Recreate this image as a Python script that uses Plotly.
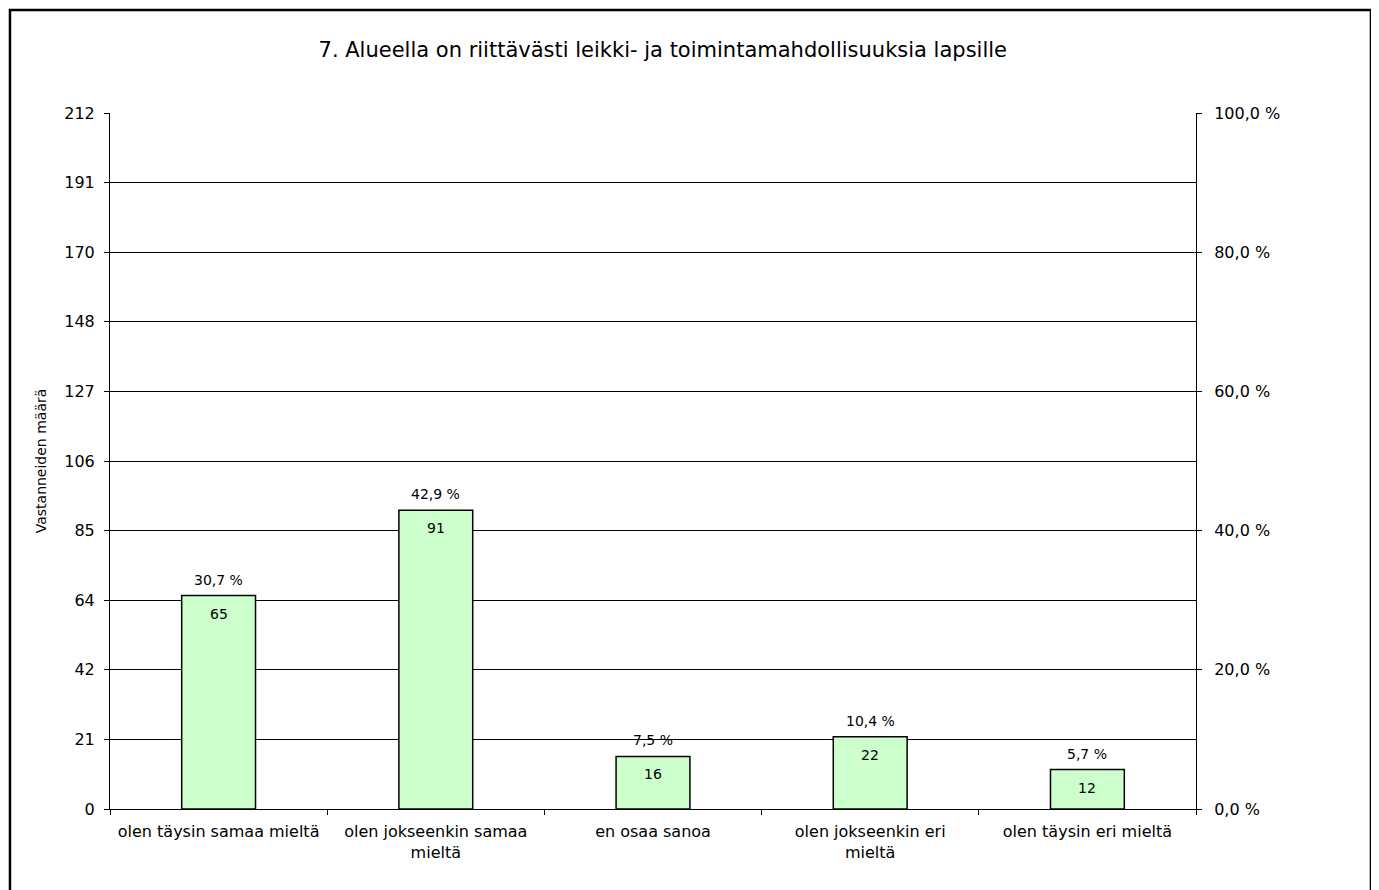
import plotly.graph_objects as go

# --- data ---
categories = ['olen täysin samaa mieltä', 'olen jokseenkin samaa<br>mieltä', 'en osaa sanoa',
              'olen jokseenkin eri<br>mieltä', 'olen täysin eri mieltä']
counts = [65, 91, 16, 22, 12]
percents = [30.7, 42.9, 7.5, 10.4, 5.7]
left_tick_labels = ['0', '21', '42', '64', '85', '106', '127', '148', '170', '191', '212']
right_tick_labels = ['0,0 %', '20,0 %', '40,0 %', '60,0 %', '80,0 %', '100,0 %']
title_text = '7. Alueella on riittävästi leikki- ja toimintamahdollisuuksia lapsille'
y_title = 'Vastanneiden määrä'

FONT = 'DejaVu Sans'
y_max = 212
left_tick_vals = [i * y_max / (len(left_tick_labels) - 1) for i in range(len(left_tick_labels))]
right_tick_vals = [i * 100 / (len(right_tick_labels) - 1) for i in range(len(right_tick_labels))]

fig = go.Figure()

fig.add_trace(go.Bar(
    x=categories, y=counts, width=0.34,
    marker=dict(color='#CCFFCC', line=dict(color='black', width=1.5)),
    showlegend=False, hoverinfo='skip'
))

# invisible trace to activate the right axis
fig.add_trace(go.Scatter(x=categories, y=[None] * len(categories), yaxis='y2',
                         showlegend=False, hoverinfo='skip'))

# value labels: count inside the bar top, percentage above the bar
annotations = []
for cat, c, p in zip(categories, counts, percents):
    annotations.append(dict(x=cat, y=c, xref='x', yref='y', text=str(c), showarrow=False,
                            yanchor='middle', yshift=-18, font=dict(family=FONT, size=14, color='black')))
    annotations.append(dict(x=cat, y=c, xref='x', yref='y', text=f"{p:.1f} %".replace('.', ','),
                            showarrow=False, yanchor='middle', yshift=16,
                            font=dict(family=FONT, size=14, color='black')))

fig.update_layout(
    width=1371, height=882,
    margin=dict(l=102, r=183, t=105, b=81),
    plot_bgcolor='white', paper_bgcolor='white',
    font=dict(family=FONT, size=16, color='black'),
    title=dict(text=title_text, x=0.509, xref='paper', y=1 - 42 / 882, yanchor='middle',
               font=dict(family=FONT, size=21, color='black')),
    xaxis=dict(showline=True, linecolor='black', linewidth=1, ticks='outside', tickson='boundaries',
               ticklen=5, tickcolor='black', showgrid=False, tickfont=dict(size=16),
               tickangle=0, ticklabelstandoff=8, automargin=False),
    yaxis=dict(range=[0, y_max], tickvals=left_tick_vals, ticktext=left_tick_labels,
               showline=True, linecolor='black', linewidth=1, ticks='outside', ticklen=5,
               tickcolor='black', showgrid=True, gridcolor='black', gridwidth=1,
               zeroline=False, tickfont=dict(size=16), ticklabelstandoff=6, automargin=False,
               title=dict(text=y_title, standoff=14, font=dict(size=14))),
    yaxis2=dict(overlaying='y', side='right', range=[0, 100], tickvals=right_tick_vals,
                ticktext=right_tick_labels, showline=True, linecolor='black', linewidth=1,
                ticks='outside', ticklen=5, tickcolor='black', showgrid=False, zeroline=False,
                tickfont=dict(size=16), ticklabelstandoff=9, automargin=False),
    annotations=annotations,
    shapes=[dict(type='rect', xref='paper', yref='paper',
                 x0=-0.0921, x1=1.1611, y0=-0.14, y1=1.148,
                 line=dict(color='black', width=2.5), fillcolor='rgba(0,0,0,0)', layer='above')]
)

fig.write_html("out.html")
